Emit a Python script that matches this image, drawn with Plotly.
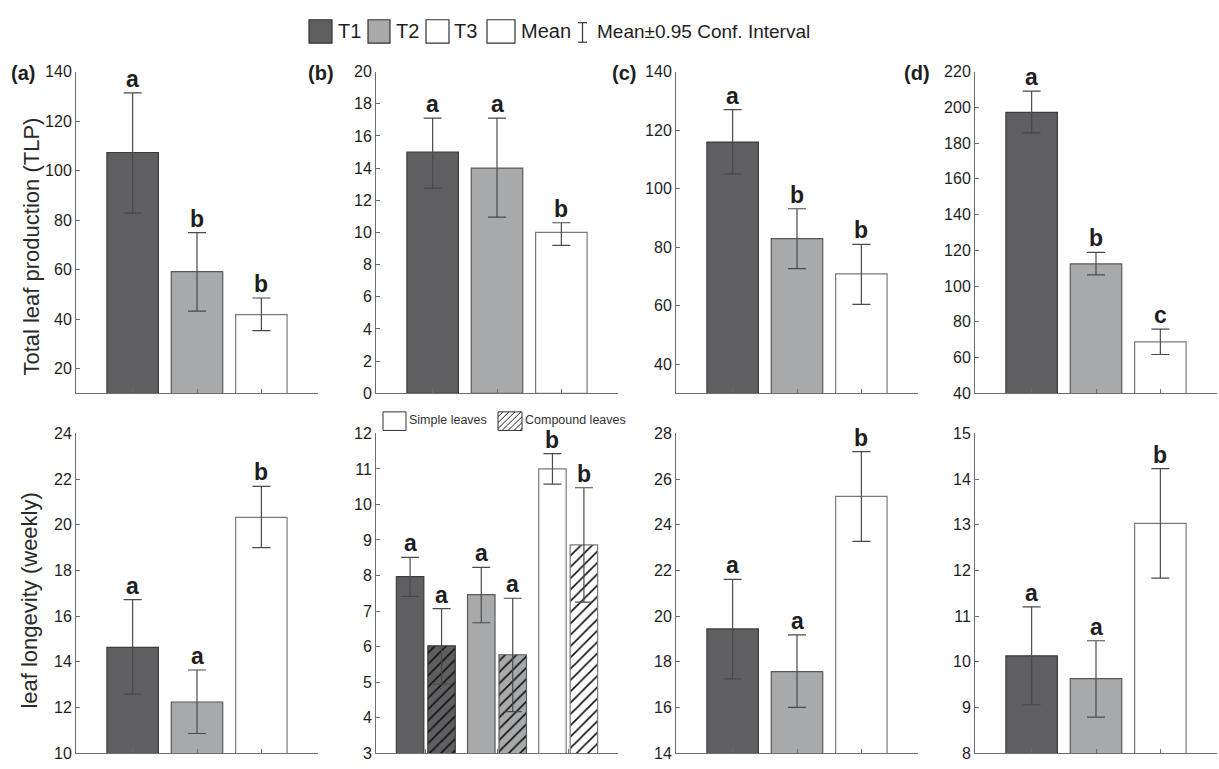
import numpy as np
import plotly.graph_objects as go

W, H = 1219, 769
FONT = "Arial, 'Liberation Sans', sans-serif"
TXT = "#1e1e1e"
AXC = "#6e6e6e"

# ---- data -------------------------------------------------------------
treatments = ["T1", "T2", "T3"]
fills = ["#5f5f61", "#a8a9ab", "#ffffff"]
edges = ["#3c3c3c", "#5a5a5a", "#7a7a7a"]

# total leaf production, panels (a)-(d)
tlp_a_mean = [107.3, 59.2, 41.8]
tlp_a_hi = [131.4, 74.9, 48.5]
tlp_a_lo = [82.8, 43.2, 35.3]
tlp_a_letters = ["a", "b", "b"]

tlp_b_mean = [15.0, 14.0, 10.0]
tlp_b_hi = [17.1, 17.1, 10.6]
tlp_b_lo = [12.75, 10.95, 9.2]
tlp_b_letters = ["a", "a", "b"]

tlp_c_mean = [115.9, 82.9, 70.8]
tlp_c_hi = [127.0, 93.1, 80.9]
tlp_c_lo = [105.0, 72.6, 60.4]
tlp_c_letters = ["a", "b", "b"]

tlp_d_mean = [197.2, 112.4, 68.8]
tlp_d_hi = [209.1, 118.8, 75.9]
tlp_d_lo = [185.7, 106.2, 61.7]
tlp_d_letters = ["a", "b", "c"]

# leaf longevity (weekly), panels (a)-(d)
ll_a_mean = [14.63, 12.24, 20.32]
ll_a_hi = [16.72, 13.64, 21.68]
ll_a_lo = [12.58, 10.86, 19.0]
ll_a_letters = ["a", "a", "b"]

ll_b_simple_mean = [7.97, 7.46, 11.0]
ll_b_simple_hi = [8.51, 8.23, 11.43]
ll_b_simple_lo = [7.41, 6.67, 10.57]
ll_b_simple_letters = ["a", "a", "b"]

ll_b_comp_mean = [6.02, 5.77, 8.86]
ll_b_comp_hi = [7.07, 7.36, 10.47]
ll_b_comp_lo = [4.94, 4.17, 7.25]
ll_b_comp_letters = ["a", "a", "b"]

ll_c_mean = [19.44, 17.57, 25.24]
ll_c_hi = [21.61, 19.18, 27.2]
ll_c_lo = [17.25, 16.0, 23.27]
ll_c_letters = ["a", "a", "b"]

ll_d_mean = [10.13, 9.63, 13.03]
ll_d_hi = [11.2, 10.46, 14.23]
ll_d_lo = [9.06, 8.79, 11.83]
ll_d_letters = ["a", "a", "b"]

# y-axis ranges and tick values per panel
top_ranges = [[10, 140], [0, 20], [30, 140], [40, 220]]
top_ticks = [list(range(20, 141, 20)), list(range(0, 21, 2)),
             list(range(40, 141, 20)), list(range(40, 221, 20))]
bot_ranges = [[10, 24], [3, 12], [14, 28], [8, 15]]
bot_ticks = [list(range(10, 25, 2)), list(range(3, 13, 1)),
             list(range(14, 29, 2)), list(range(8, 16, 1))]

# ---- layout geometry (pixels) ------------------------------------------
col_x0 = [76, 376, 676, 975]
col_w = 242
rows_px = [(65, 394), (435, 762)]
XR = [0.12, 3.88]


def fx(p):
    return min(max(p / W, 0.0), 1.0)


def fy(p):
    return min(max(1 - p / H, 0.0), 1.0)


def ax_name(n, letter):
    return letter if n == 1 else f"{letter}{n}"


fig = go.Figure()
annotations = []
shapes = []


def add_axes(n, col, row, yrange, yticks, xrange):
    x0 = col_x0[col]
    top, bot = rows_px[row]
    suffix = "" if n == 1 else str(n)
    fig.layout[f"xaxis{suffix}"] = dict(
        domain=[fx(x0), fx(x0 + col_w)], anchor=ax_name(n, "y"),
        range=xrange, tickvals=[1, 2, 3], showticklabels=False,
        ticks="inside", ticklen=4, tickcolor=AXC, showline=True,
        linecolor=AXC, linewidth=1, showgrid=False, zeroline=False,
        fixedrange=True)
    fig.layout[f"yaxis{suffix}"] = dict(
        domain=[fy(bot), fy(top)], anchor=ax_name(n, "x"),
        range=yrange, tickvals=yticks, ticks="inside", ticklen=4,
        tickcolor=AXC, showline=True, linecolor=AXC, linewidth=1,
        showgrid=False, zeroline=False,
        tickfont=dict(family=FONT, size=16, color=TXT), fixedrange=True)


def add_letters(n, xs, hi, letters):
    for x, y, t in zip(xs, hi, letters):
        annotations.append(dict(
            x=x, y=y, xref=ax_name(n, "x"), yref=ax_name(n, "y"),
            text=f"<b>{t}</b>", showarrow=False, xanchor="center",
            yanchor="bottom", yshift=-1,
            font=dict(family=FONT, size=23, color=TXT)))


def err(mean, hi, lo):
    m = np.array(mean)
    return dict(type="data", symmetric=False,
                array=(np.array(hi) - m).tolist(),
                arrayminus=(m - np.array(lo)).tolist(),
                color="#4a4a4a", thickness=1.2, width=9)


def simple_panel(n, col, row, mean, hi, lo, letters, yrange, yticks):
    add_axes(n, col, row, yrange, yticks, XR)
    fig.add_trace(go.Bar(
        x=[1, 2, 3], y=mean, width=0.8, text=treatments,
        textposition="none", hoverinfo="skip", showlegend=False,
        marker=dict(color=fills, line=dict(color=edges, width=1.2)),
        error_y=err(mean, hi, lo),
        xaxis=ax_name(n, "x"), yaxis=ax_name(n, "y")))
    add_letters(n, [1, 2, 3], hi, letters)


top_sets = [
    (tlp_a_mean, tlp_a_hi, tlp_a_lo, tlp_a_letters),
    (tlp_b_mean, tlp_b_hi, tlp_b_lo, tlp_b_letters),
    (tlp_c_mean, tlp_c_hi, tlp_c_lo, tlp_c_letters),
    (tlp_d_mean, tlp_d_hi, tlp_d_lo, tlp_d_letters),
]
for c, (m, h, l, t) in enumerate(top_sets):
    simple_panel(c + 1, c, 0, m, h, l, t, top_ranges[c], top_ticks[c])

bot_sets = {
    0: (ll_a_mean, ll_a_hi, ll_a_lo, ll_a_letters),
    2: (ll_c_mean, ll_c_hi, ll_c_lo, ll_c_letters),
    3: (ll_d_mean, ll_d_hi, ll_d_lo, ll_d_letters),
}
for c, (m, h, l, t) in bot_sets.items():
    simple_panel(c + 5, c, 1, m, h, l, t, bot_ranges[c], bot_ticks[c])

# grouped panel: simple vs compound leaves
n = 6
add_axes(n, 1, 1, bot_ranges[1], bot_ticks[1], [0.3, 3.7])
BW = 0.386
HALF = 0.221
fig.add_trace(go.Bar(
    x=[1, 2, 3], y=ll_b_simple_mean, width=BW, offset=-HALF - BW / 2,
    hoverinfo="skip", showlegend=False, name="Simple leaves",
    marker=dict(color=fills, line=dict(color=edges, width=1.2)),
    error_y=err(ll_b_simple_mean, ll_b_simple_hi, ll_b_simple_lo),
    xaxis="x6", yaxis="y6"))
# one trace per compound bar so each keeps its own fill under black hatching
for i, g in enumerate([1, 2, 3]):
    fig.add_trace(go.Bar(
        x=[g], y=[ll_b_comp_mean[i]], width=BW, offset=HALF - BW / 2,
        hoverinfo="skip", showlegend=False, name="Compound leaves",
        marker=dict(color=fills[i], line=dict(color=edges[i], width=1.2),
                    pattern=dict(shape="/", fgcolor="#111111", fgopacity=1,
                                 bgcolor=fills[i], size=8, solidity=0.2,
                                 fillmode="overlay")),
        error_y=err([ll_b_comp_mean[i]], [ll_b_comp_hi[i]], [ll_b_comp_lo[i]]),
        xaxis="x6", yaxis="y6"))
fig.update_layout(barmode="overlay")
add_letters(n, [g - HALF for g in (1, 2, 3)], ll_b_simple_hi, ll_b_simple_letters)
add_letters(n, [g + HALF for g in (1, 2, 3)], ll_b_comp_hi, ll_b_comp_letters)


def note(x, y, text, size, color=TXT, xanchor="center", angle=0):
    annotations.append(dict(x=fx(x), y=fy(y), xref="paper", yref="paper",
                            text=text, showarrow=False, xanchor=xanchor,
                            yanchor="middle", textangle=angle,
                            font=dict(family=FONT, size=size, color=color)))


# ---- panel labels and y titles ----------------------------------------
for lab, cx in zip(["(a)", "(b)", "(c)", "(d)"], [23, 321, 624, 917]):
    note(cx, 66, f"<b>{lab}</b>", 20)

note(32, 244, "Total leaf production (TLP)", 22, "#2a2a2a", angle=-90)
note(30, 606, "leaf longevity (weekly)", 22, "#2a2a2a", angle=-90)


# ---- top legend --------------------------------------------------------
def box(x0, x1, y0, y1, fill, lw=1.2):
    shapes.append(dict(type="rect", xref="paper", yref="paper",
                       x0=fx(x0), x1=fx(x1), y0=fy(y1), y1=fy(y0),
                       fillcolor=fill, line=dict(color="#333333", width=lw)))


def seg(x0, y0, x1, y1, color="#333333", w=1.2):
    shapes.append(dict(type="line", xref="paper", yref="paper",
                       x0=fx(x0), y0=fy(y0), x1=fx(x1), y1=fy(y1),
                       line=dict(color=color, width=w)))


legend_boxes = [(309, 332), (368, 390), (426, 449), (487, 515)]
legend_fills = fills + ["#ffffff"]
legend_text_x = [336, 394, 452, 519]
legend_names = treatments + ["Mean"]
for (bx0, bx1), f, tx, name in zip(legend_boxes, legend_fills,
                                    legend_text_x, legend_names):
    box(bx0, bx1, 12, 36, f)
    note(tx, 24, name, 20, xanchor="left")

# confidence interval glyph
seg(582.5, 15, 582.5, 35)
seg(578, 15, 587, 15)
seg(578, 35, 587, 35)
note(595, 24, "Mean±0.95 Conf. Interval", 19, xanchor="left")

# ---- leaf type legend ---------------------------------------------------
box(383, 406, 413, 432, "#ffffff", 1)
note(407, 421, "Simple leaves", 12.5, "#333333", xanchor="left")
hx0, hx1, hy0, hy1 = 498, 522, 413, 432
box(hx0, hx1, hy0, hy1, "#ffffff", 1)
for c in np.arange(hx0 + hy0 + 5, hx1 + hy1, 6):
    xa = max(hx0, c - hy1)
    xb = min(hx1, c - hy0)
    if xb - xa > 1:
        seg(xa, c - xa, xb, c - xb, "#222222", 1)
note(523, 421, "Compound leaves", 12.5, "#333333", xanchor="left")

fig.update_layout(
    width=W, height=H, margin=dict(l=0, r=0, t=0, b=0),
    paper_bgcolor="white", plot_bgcolor="rgba(0,0,0,0)",
    font=dict(family=FONT, color=TXT),
    annotations=annotations, shapes=shapes, showlegend=False)

fig.write_html("out.html")
